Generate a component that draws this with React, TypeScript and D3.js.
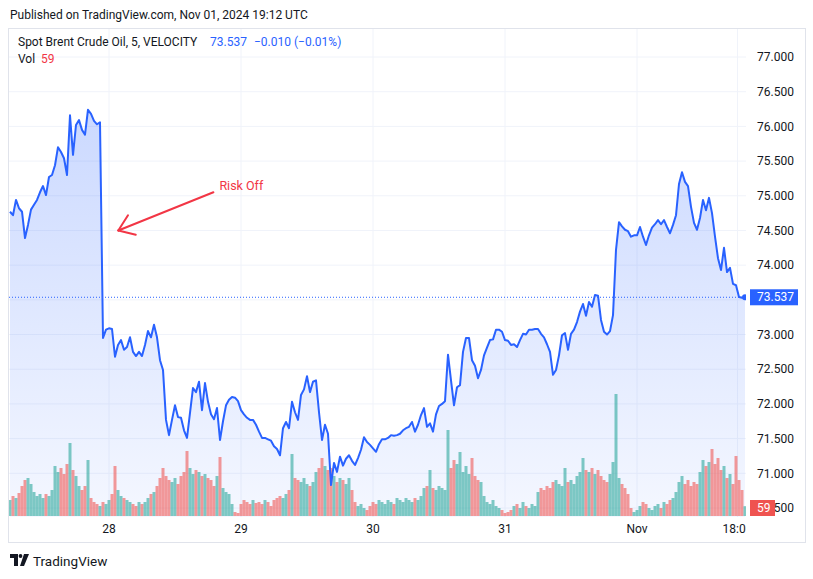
import * as d3 from 'd3';

const W = 813;
const H = 579;
const font = "Roboto, 'DejaVu Sans', sans-serif";
const blue = '#2962ff';
const redText = '#f23645';
const gridColor = '#f0f3fa';
const borderColor = '#e0e3eb';
const upColor = '#26a69a';
const downColor = '#ef5350';

// pane box
const pane = { left: 9, right: 746, top: 29, bottom: 517 };

// 30-minute closes, Oct 25 -> Nov 01 (trading hours only)
const prices = [
  74.77, 74.72, 74.94, 74.82, 74.77, 74.39, 74.58, 74.80, 74.87, 74.94,
  75.05, 75.14, 75.01, 75.27, 75.30, 75.44, 75.70, 75.63, 75.54, 75.30,
  76.16, 75.59, 76.02, 76.09, 75.95, 75.88, 76.24, 76.18, 76.08, 76.03,
  76.06, 72.95, 73.07, 73.09, 73.08, 72.68, 72.85, 72.92, 72.78, 72.82,
  72.96, 72.75, 72.69, 72.75, 72.69, 72.85, 73.05, 72.96, 73.14, 72.96,
  72.63, 72.49, 71.77, 71.55, 71.77, 71.98, 71.81, 71.80, 71.62, 71.51,
  71.87, 72.23, 72.17, 72.32, 71.91, 72.30, 72.03, 71.85, 71.78, 71.94,
  71.48, 71.75, 71.98, 72.06, 72.10, 72.09, 72.04, 71.91, 71.85, 71.80,
  71.77, 71.77, 71.70, 71.60, 71.51, 71.51, 71.49, 71.47, 71.39, 71.35,
  71.26, 71.65, 71.74, 71.65, 72.03, 71.88, 71.77, 72.13, 72.21, 72.40,
  72.17, 72.32, 72.34, 71.88, 71.48, 71.70, 71.57, 70.83, 71.15, 71.02,
  71.24, 71.11, 71.21, 71.26, 71.18, 71.12, 71.22, 71.34, 71.52, 71.45,
  71.41, 71.36, 71.31, 71.42, 71.49, 71.49, 71.51, 71.55, 71.54, 71.55,
  71.57, 71.62, 71.65, 71.67, 71.74, 71.60, 71.70, 71.84, 71.94, 71.67,
  71.72, 71.60, 71.85, 71.97, 72.00, 72.04, 72.71, 72.34, 71.98, 72.24,
  72.27, 72.75, 72.95, 72.95, 72.63, 72.55, 72.37, 72.49, 72.70, 72.81,
  72.92, 72.93, 73.07, 73.07, 73.04, 72.92, 72.91, 72.85, 72.86, 72.82,
  72.92, 73.01, 73.00, 73.07, 73.07, 73.08, 73.08, 73.01, 72.96, 72.86,
  72.75, 72.42, 72.49, 72.70, 72.99, 73.02, 72.78, 73.01, 73.07, 73.18,
  73.33, 73.44, 73.27, 73.47, 73.40, 73.57, 73.56, 73.21, 73.04, 73.00,
  73.05, 73.28, 74.22, 74.62, 74.56, 74.51, 74.49, 74.41, 74.43, 74.43,
  74.55, 74.41, 74.29, 74.43, 74.54, 74.59, 74.65, 74.59, 74.65, 74.55,
  74.46, 74.58, 74.72, 75.17, 75.34, 75.20, 75.14, 74.84, 74.61, 74.51,
  74.68, 74.94, 74.79, 74.97, 74.75, 74.41, 74.10, 73.93, 74.25, 73.90,
  73.96, 73.73, 73.71, 73.54, 73.53, 73.537,
];

const volumes = [
  96, 120, 108, 138, 180, 216, 228, 192, 144, 120,
  132, 108, 132, 120, 156, 300, 264, 288, 252, 312,
  438, 276, 240, 180, 156, 180, 336, 108, 84, 72,
  60, 84, 72, 96, 132, 300, 156, 120, 108, 96,
  84, 72, 60, 84, 72, 84, 108, 132, 144, 180,
  228, 288, 240, 216, 204, 228, 192, 240, 264, 390,
  288, 252, 276, 264, 240, 252, 228, 216, 180, 240,
  354, 168, 144, 132, 72, 24, 18, 72, 96, 84,
  72, 96, 78, 84, 72, 96, 84, 60, 96, 108,
  120, 108, 132, 156, 372, 228, 216, 204, 228, 192,
  180, 204, 264, 288, 348, 300, 276, 288, 240, 204,
  228, 216, 192, 228, 156, 84, 60, 72, 48, 36,
  60, 84, 72, 96, 84, 72, 96, 84, 72, 108,
  96, 84, 108, 96, 84, 108, 96, 120, 168, 180,
  276, 168, 156, 180, 168, 156, 516, 288, 336, 312,
  384, 264, 300, 252, 348, 240, 216, 204, 120, 84,
  72, 96, 60, 48, 36, 18, 24, 36, 60, 72,
  48, 84, 60, 48, 72, 60, 144, 168, 156, 180,
  168, 204, 216, 192, 180, 288, 204, 216, 192, 240,
  264, 348, 276, 264, 288, 252, 276, 240, 216, 204,
  252, 324, 732, 228, 192, 168, 132, 48, 24, 36,
  60, 84, 72, 48, 36, 60, 72, 48, 84, 72,
  96, 108, 144, 204, 240, 192, 216, 180, 204, 192,
  264, 336, 300, 324, 402, 312, 348, 276, 300, 228,
  252, 192, 360, 216, 156, 59,
];

const priceTicks = [77, 76.5, 76, 75.5, 75, 74.5, 74, 73.5, 73, 72.5, 72, 71.5, 71, 70.5];
const dayTickIdx = [33, 77, 121, 165, 209, 242.5];
const dayLabels = ['28', '29', '30', '31', 'Nov', '18:00'];

const title = 'Spot Brent Crude Oil, 5, VELOCITY';
const lastPrice = 73.537;
const change = '\u22120.010 (\u22120.01%)';
const lastVol = 59;

// "Risk Off" drawing, anchored in bar index / price
const note = { text: 'Risk Off', fromIdx: 67.8, fromPrice: 75.05, toIdx: 36.1, toPrice: 74.5 };

export default function App() {
  const x = d3.scaleLinear().domain([0, prices.length - 1]).range([10, 745]);
  const y = d3.scaleLinear().domain([70.5, 77]).range([508, 57]);
  const yVol = d3.scaleLinear().domain([0, 1000]).range([516, 516 - 1000 / 6]);

  const line = d3.line<number>().x((d, i) => x(i)).y(d => y(d));
  const area = d3.area<number>().x((d, i) => x(i)).y0(pane.bottom).y1(d => y(d));

  const step = x(1) - x(0);
  const lastX = x(prices.length - 1);
  const lastY = y(lastPrice);

  // tick labels hidden behind the last-price label
  const tickLabels = priceTicks.filter(t => Math.abs(y(t) - lastY) > 12);

  // arrow
  const ax0 = x(note.fromIdx), ay0 = y(note.fromPrice);
  const ax1 = x(note.toIdx), ay1 = y(note.toPrice);
  const ang = Math.atan2(ay0 - ay1, ax0 - ax1);
  const headLen = 18;
  const h1 = [ax1 + headLen * Math.cos(ang - 0.62), ay1 + headLen * Math.sin(ang - 0.62)];
  const h2 = [ax1 + headLen * Math.cos(ang + 0.62), ay1 + headLen * Math.sin(ang + 0.62)];

  return (
    <svg width={W} height={H} style={{ position: 'absolute', left: 0, top: 0, background: '#fff' }}
      fontFamily={font}>
      <defs>
        <linearGradient id="areaFill" gradientUnits="userSpaceOnUse" x1="0" y1={pane.top} x2="0" y2={pane.bottom}>
          <stop offset="0" stopColor={blue} stopOpacity={0.28} />
          <stop offset="1" stopColor={blue} stopOpacity={0.05} />
        </linearGradient>
        <clipPath id="plotClip">
          <rect x={pane.left} y={pane.top} width={pane.right - pane.left} height={pane.bottom - pane.top} />
        </clipPath>
        <clipPath id="timeClip">
          <rect x={pane.left} y={pane.bottom} width={pane.right - pane.left} height={30} />
        </clipPath>
      </defs>

      <text x={10} y={19} fontSize={12} fill="#131722">Published on TradingView.com, Nov 01, 2024 19:12 UTC</text>

      {/* grid */}
      {priceTicks.map(t => (
        <line key={t} x1={pane.left} x2={pane.right} y1={y(t)} y2={y(t)} stroke={gridColor} />
      ))}
      {dayTickIdx.map(d => (
        <line key={d} x1={x(d)} x2={x(d)} y1={pane.top} y2={pane.bottom} stroke={gridColor} />
      ))}

      <g clipPath="url(#plotClip)">
        <path d={area(prices) || ''} fill="url(#areaFill)" />
        {volumes.map((v, i) => (
          <rect key={i} x={x(i) - step / 2} y={yVol(v)} width={step} height={yVol(0) - yVol(v)}
            fill={i > 0 && prices[i] < prices[i - 1] ? downColor : upColor} fillOpacity={0.58} />
        ))}
        <line x1={pane.left} x2={pane.right} y1={lastY} y2={lastY} stroke={blue} strokeWidth={1} strokeDasharray="1 2" />
        <path d={line(prices) || ''} fill="none" stroke={blue} strokeWidth={2} strokeLinejoin="round" />
        <circle cx={lastX} cy={lastY} r={3} fill={blue} />
      </g>

      {/* Risk Off annotation */}
      <g stroke={redText} strokeWidth={2} strokeLinecap="round" fill="none">
        <line x1={ax0} y1={ay0} x2={ax1} y2={ay1} />
        <line x1={ax1} y1={ay1} x2={h1[0]} y2={h1[1]} />
        <line x1={ax1} y1={ay1} x2={h2[0]} y2={h2[1]} />
      </g>
      <text x={ax0 + 6} y={ay0 - 2} fontSize={12.5} fill={redText}>{note.text}</text>

      {/* legend */}
      <text x={18} y={46} fontSize={12} fill="#131722">{title}</text>
      <text x={210} y={46} fontSize={12} fill={blue}>{lastPrice.toFixed(3)}</text>
      <text x={254} y={46} fontSize={12} fill={blue}>{change}</text>
      <text x={18} y={63} fontSize={12} fill="#131722">Vol</text>
      <text x={41} y={63} fontSize={12} fill={redText}>{lastVol}</text>

      {/* price axis */}
      {tickLabels.map(t => (
        <text key={t} x={757} y={y(t)} dy="0.35em" fontSize={12} fill="#131722">{t.toFixed(3)}</text>
      ))}
      <rect x={750} y={lastY - 8} width={48} height={16} fill={blue} />
      <text x={757} y={lastY} dy="0.35em" fontSize={12} fill="#fff">{lastPrice.toFixed(3)}</text>
      <rect x={750} y={yVol(0) - 16} width={25} height={16} fill={downColor} />
      <text x={757} y={yVol(0) - 8} dy="0.35em" fontSize={12} fill="#fff">{lastVol}</text>

      {/* time axis */}
      <g clipPath="url(#timeClip)">
        {dayTickIdx.map((d, i) => (
          <text key={d} x={x(d)} y={529} dy="0.35em" textAnchor="middle" fontSize={12} fill="#131722">{dayLabels[i]}</text>
        ))}
      </g>

      {/* frame */}
      <rect x={8.5} y={28.5} width={797} height={514} fill="none" stroke={borderColor} />

      {/* logo */}
      <g fill="#131722">
        <path d="M10 554 h8 v12 h-4 v-8 h-4 z" />
        <circle cx={20.5} cy={556} r={1.9} />
        <path d="M24 554 h5 l-5 12 h-4 z" />
      </g>
      <text x={33} y={566} fontSize={13.5} fill="#131722">TradingView</text>
    </svg>
  );
}
